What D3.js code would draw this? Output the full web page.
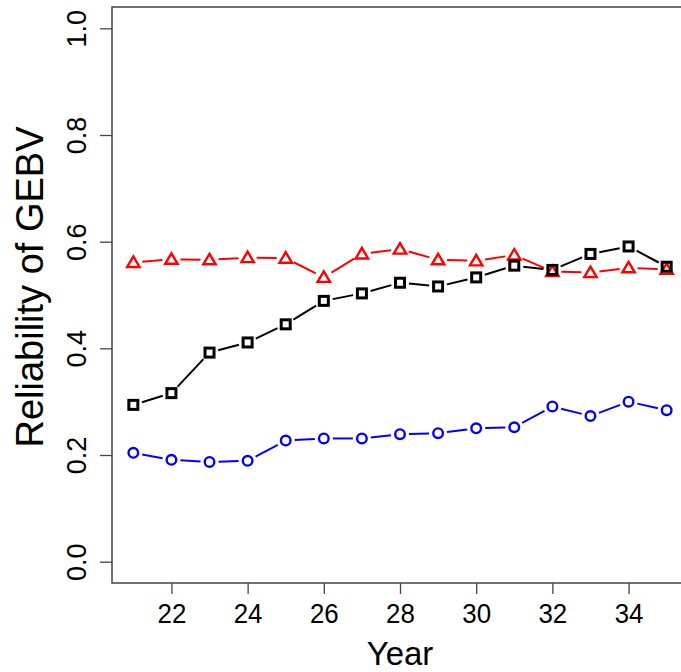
<!DOCTYPE html>
<html>
<head>
<meta charset="utf-8">
<script src="https://cdn.jsdelivr.net/npm/d3@7"></script>
<style>
  body { margin: 0; background: #fff; }
  svg text { font-family: "Liberation Sans", Arial, sans-serif; fill: #000; }
</style>
</head>
<body>
<svg id="chart" width="681" height="672"></svg>
<script>
// data
const years = [21, 22, 23, 24, 25, 26, 27, 28, 29, 30, 31, 32, 33, 34, 35];
const black_vals = [0.294, 0.316, 0.392, 0.411, 0.445, 0.489, 0.503, 0.523, 0.516, 0.533, 0.555, 0.547, 0.577, 0.591, 0.553];
const red_vals = [0.561, 0.567, 0.566, 0.570, 0.569, 0.533, 0.577, 0.586, 0.566, 0.564, 0.575, 0.544, 0.542, 0.551, 0.548];
const blue_vals = [0.204, 0.191, 0.187, 0.189, 0.227, 0.231, 0.231, 0.239, 0.241, 0.250, 0.252, 0.291, 0.273, 0.300, 0.284];
const x_ticks = [22, 24, 26, 28, 30, 32, 34];
const y_ticks = [0.0, 0.2, 0.4, 0.6, 0.8, 1.0];

const series = [
    { vals: red_vals, color: "#ff0000", shape: "triangle" },
    { vals: black_vals, color: "#000000", shape: "square" },
    { vals: blue_vals, color: "#0000ff", shape: "circle" }
];

const svg = d3.select("#chart");
const box = { left: 112, right: 688, top: 7, bottom: 583 };

// R style axis extension of 4%
const x_scaler = d3.scaleLinear().domain([21 - 0.56, 35 + 0.56]).range([box.left, box.right]);
const y_scaler = d3.scaleLinear().domain([-0.04, 1.04]).range([box.bottom, box.top]);

// plot box
svg.append("rect")
    .attr("x", box.left).attr("y", box.top)
    .attr("width", box.right - box.left).attr("height", box.bottom - box.top)
    .attr("style", "fill:none; stroke:#444; stroke-width:1.5");

// x axis
const x_axis = svg.append("g").attr("transform", "translate(0," + box.bottom + ")")
    .call(d3.axisBottom(x_scaler).tickValues(x_ticks).tickSize(11).tickPadding(8).tickFormat(d3.format("d")));
x_axis.select(".domain").remove();
x_axis.selectAll("line").attr("stroke", "#444").attr("stroke-width", 1.3);
x_axis.selectAll("text").attr("font-size", "27px").attr("font-family", null).attr("fill", "#000")
    .attr("transform", "scale(0.96,1.04)");

// y axis
const y_axis = svg.append("g").attr("transform", "translate(" + box.left + ",0)")
    .call(d3.axisLeft(y_scaler).tickValues(y_ticks).tickSize(12).tickFormat(d3.format(".1f")));
y_axis.select(".domain").remove();
y_axis.selectAll("line").attr("stroke", "#444").attr("stroke-width", 1.3);
y_axis.selectAll("text")
    .attr("font-size", "27px").attr("font-family", null).attr("fill", "#000")
    .attr("x", null).attr("dy", null)
    .attr("text-anchor", "middle")
    .attr("transform", "translate(-26,0) rotate(-90)");

// axis titles
svg.append("text").attr("x", (box.left + box.right) / 2).attr("y", 665)
    .attr("text-anchor", "middle").attr("font-size", "33px").text("Year");
svg.append("text")
    .attr("transform", "translate(43,287) rotate(-90)")
    .attr("text-anchor", "middle").attr("font-size", "38px").text("Reliability of GEBV");

// lines with gaps near points (type = "b")
const gap = 9;
series.forEach(function (s) {
    const pts = years.map((yr, i) => ({ x: x_scaler(yr), y: y_scaler(s.vals[i]) }));
    const segs = [];
    for (let i = 1; i < pts.length; i++) {
        const a = pts[i - 1], b = pts[i];
        const len = Math.hypot(b.x - a.x, b.y - a.y);
        if (len <= 2 * gap) continue;
        const ux = (b.x - a.x) / len, uy = (b.y - a.y) / len;
        segs.push([a.x + ux * gap, a.y + uy * gap, b.x - ux * gap, b.y - uy * gap]);
    }
    svg.append("g").selectAll("line").data(segs).join("line")
        .attr("x1", d => d[0]).attr("y1", d => d[1]).attr("x2", d => d[2]).attr("y2", d => d[3])
        .attr("stroke", s.color).attr("stroke-width", 2);

    const g = svg.append("g");
    if (s.shape == "square") {
        g.selectAll("rect").data(pts).join("rect")
            .attr("x", d => d.x - 4.5).attr("y", d => d.y - 4.5).attr("width", 9).attr("height", 9)
            .attr("style", "fill:none; stroke:" + s.color + "; stroke-width:3");
    } else if (s.shape == "circle") {
        g.selectAll("circle").data(pts).join("circle")
            .attr("cx", d => d.x).attr("cy", d => d.y).attr("r", 4.8)
            .attr("style", "fill:none; stroke:" + s.color + "; stroke-width:2.4");
    } else {
        g.selectAll("path").data(pts).join("path")
            .attr("d", d => "M" + d.x + "," + (d.y - 6) + "L" + (d.x + 6.2) + "," + (d.y + 4.5) + "L" + (d.x - 6.2) + "," + (d.y + 4.5) + "Z")
            .attr("style", "fill:none; stroke:" + s.color + "; stroke-width:2.4; stroke-linejoin:miter");
    }
});
</script>
</body>
</html>
